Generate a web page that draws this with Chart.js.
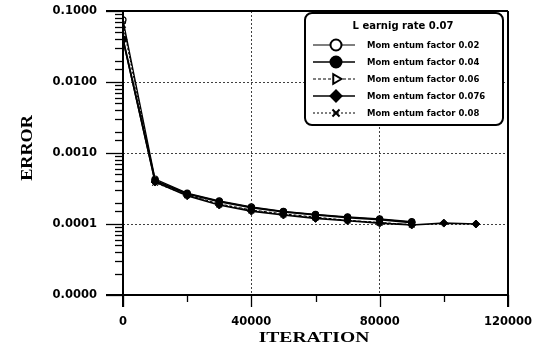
<!DOCTYPE html>
<html>
<head>
<meta charset="utf-8">
<script src="https://cdn.jsdelivr.net/npm/chart.js@4/dist/chart.umd.min.js"></script>
<style>
  html, body { margin: 0; padding: 0; background: #fff; }
  #wrap { width: 537px; height: 346px; }
</style>
</head>
<body>
<div id="wrap"><canvas id="c" width="537" height="346"></canvas></div>
<script>
// Training error against iteration count, learning rate 0.07
const iterations = [0, 10000, 20000, 30000, 40000, 50000, 60000, 70000, 80000, 90000, 100000, 110000];

const errMomentum002  = [0.075, 0.00043, 0.000272, 0.000212, 0.000175, 0.000151, 0.000137, 0.000126, 0.000118, 0.000108, null, null];
const errMomentum004  = [0.040, 0.00041, 0.000265, 0.000206, 0.000170, 0.000148, 0.000134, 0.000123, 0.000115, 0.000105, null, null];
const errMomentum006  = [0.068, 0.00040, 0.000258, 0.000192, 0.000158, 0.000139, 0.000125, 0.000113, 0.000105, 0.000098, null, null];
const errMomentum0076 = [0.040, 0.00039, 0.000250, 0.000185, 0.000152, 0.000134, 0.000120, 0.000111, 0.000103, 0.000097, 0.000103, 0.000100];
const errMomentum008  = [0.064, 0.00038, 0.000255, 0.000188, 0.000155, 0.000136, 0.000122, 0.000112, 0.000104, 0.000098, null, null];

const seriesLabels = [
  'Mom entum factor 0.02',
  'Mom entum factor 0.04',
  'Mom entum factor 0.06',
  'Mom entum factor 0.076',
  'Mom entum factor 0.08'
];
const legendTitle = 'L earnig rate 0.07';
const xTitle = 'ITERATION';
const yTitle = 'ERROR';

const yTickValues = [0.00001, 0.0001, 0.001, 0.01, 0.1];
const xLabelStep = 40000;

function toPoints(values) {
  const pts = [];
  values.forEach((v, i) => { if (v !== null) pts.push({ x: iterations[i], y: v }); });
  return pts;
}

// filled markers are stacked above the open ones
const datasets = [
  { label: seriesLabels[0], data: toPoints(errMomentum002), borderColor: '#000', backgroundColor: '#fff', order: 5,
    borderWidth: 1.2, borderDash: [], pointStyle: 'circle', pointRadius: 3, pointBorderWidth: 1.2 },
  { label: seriesLabels[1], data: toPoints(errMomentum004), borderColor: '#000', backgroundColor: '#000', order: 2,
    borderWidth: 1.8, borderDash: [], pointStyle: 'circle', pointRadius: 3.5, pointBorderWidth: 1 },
  { label: seriesLabels[2], data: toPoints(errMomentum006), borderColor: '#000', backgroundColor: '#fff', order: 4,
    borderWidth: 1, borderDash: [3, 2], pointStyle: 'triangle', pointRotation: 90, pointRadius: 3, pointBorderWidth: 1 },
  { label: seriesLabels[3], data: toPoints(errMomentum0076), borderColor: '#000', backgroundColor: '#000', order: 1,
    borderWidth: 1.6, borderDash: [], pointStyle: 'rectRot', pointRadius: 4, pointBorderWidth: 1 },
  { label: seriesLabels[4], data: toPoints(errMomentum008), borderColor: '#000', backgroundColor: '#000', order: 3,
    borderWidth: 1, borderDash: [2, 2], pointStyle: 'crossRot', pointRadius: 4, pointBorderWidth: 1.2 }
];

const isDecade = v => Math.abs(Math.log10(v) - Math.round(Math.log10(v))) < 1e-9;

// Frame, tick marks and axis titles
const framePlugin = {
  id: 'frame',
  afterDatasetsDraw(chart) {
    const { ctx, chartArea: a, scales } = chart;
    const xs = scales.x, ys = scales.y;
    ctx.save();
    ctx.strokeStyle = '#000';
    // minor/major ticks on the y axis
    ctx.lineWidth = 1.3;
    ys.ticks.forEach(t => {
      const y = Math.round(ys.getPixelForValue(t.value)) + 0.5;
      const len = isDecade(t.value) ? 17 : 8;
      ctx.beginPath(); ctx.moveTo(a.left - len, y); ctx.lineTo(a.left, y); ctx.stroke();
    });
    // ticks on the x axis
    xs.ticks.forEach(t => {
      const x = Math.round(xs.getPixelForValue(t.value)) + 0.5;
      const len = t.value % xLabelStep === 0 ? 12 : 7;
      ctx.beginPath(); ctx.moveTo(x, a.bottom); ctx.lineTo(x, a.bottom + len); ctx.stroke();
    });
    // frame lines
    ctx.lineWidth = 2;
    ctx.beginPath();
    ctx.moveTo(a.left - 17, a.top); ctx.lineTo(a.right, a.top);
    ctx.moveTo(a.right, a.top); ctx.lineTo(a.right, a.bottom + 12);
    ctx.moveTo(a.left, a.top); ctx.lineTo(a.left, a.bottom + 12);
    ctx.moveTo(a.left - 17, a.bottom); ctx.lineTo(a.right, a.bottom);
    ctx.stroke();

    // axis titles (wide serif capitals)
    ctx.fillStyle = '#000';
    ctx.font = 'bold 14px "Liberation Serif"';
    ctx.textAlign = 'center';
    ctx.textBaseline = 'middle';
    ctx.save();
    ctx.translate(314, 338);
    ctx.scale(1.4, 1);
    ctx.fillText(xTitle, 0, 0);
    ctx.restore();
    ctx.save();
    ctx.translate(27, 148);
    ctx.rotate(-Math.PI / 2);
    ctx.scale(1.3, 1.25);
    ctx.fillText(yTitle, 0, 0);
    ctx.restore();
    ctx.restore();
  }
};

// Boxed legend with title
const boxLegendPlugin = {
  id: 'boxLegend',
  afterDraw(chart) {
    const { ctx } = chart;
    const bx = 305, by = 13, bw = 198, bh = 112, r = 7;
    ctx.save();
    ctx.fillStyle = '#fff';
    ctx.strokeStyle = '#000';
    ctx.lineWidth = 2;
    ctx.beginPath();
    ctx.roundRect(bx, by, bw, bh, r);
    ctx.fill();
    ctx.stroke();

    ctx.fillStyle = '#000';
    ctx.font = 'bold 10px "DejaVu Sans"';
    ctx.textAlign = 'center';
    ctx.textBaseline = 'middle';
    ctx.fillText(legendTitle, 403, 26);

    ctx.font = 'bold 8.5px "DejaVu Sans"';
    ctx.textAlign = 'left';
    chart.data.datasets.forEach((ds, i) => {
      const y = 45 + i * 17;
      ctx.save();
      ctx.strokeStyle = '#000';
      ctx.lineWidth = Math.min(ds.borderWidth, 1.4);
      ctx.setLineDash(ds.borderDash.length ? ds.borderDash : []);
      ctx.beginPath(); ctx.moveTo(313, y); ctx.lineTo(355, y); ctx.stroke();
      ctx.restore();
      ctx.save();
      ctx.fillStyle = ds.backgroundColor;
      ctx.strokeStyle = '#000';
      Chart.helpers.drawPoint(ctx, {
        pointStyle: ds.pointStyle,
        rotation: ds.pointRotation || 0,
        radius: ds.pointStyle === 'crossRot' ? 5 : 5.5,
        borderWidth: 1.2
      }, 336, y);
      ctx.restore();
      ctx.fillText(ds.label, 367, y + 0.5);
    });
    ctx.restore();
  }
};

new Chart(document.getElementById('c'), {
  type: 'line',
  data: { datasets },
  options: {
    responsive: false,
    animation: false,
    devicePixelRatio: 1,
    layout: { padding: { top: 11, right: 29, left: 0, bottom: 0 } },
    plugins: { legend: { display: false }, tooltip: { enabled: false } },
    elements: { line: { tension: 0 } },
    scales: {
      x: {
        type: 'linear',
        min: 0, max: 120000,
        afterFit(s) { s.height = 51; s.paddingLeft = 0; s.paddingRight = 0; },
        border: { display: false, dash: [2, 2] },
        grid: {
          drawTicks: false,
          lineWidth: 1,
          color: c => (c.tick && c.tick.value % xLabelStep === 0 && c.tick.value > 0 && c.tick.value < 120000) ? 'rgba(0,0,0,0.75)' : 'rgba(0,0,0,0)'
        },
        ticks: {
          stepSize: 20000,
          autoSkip: false,
          maxRotation: 0,
          padding: 20,
          color: '#000',
          font: { family: 'DejaVu Sans', weight: 'bold', size: 11.5 },
          callback: v => (v % xLabelStep === 0 ? String(v) : '')
        }
      },
      y: {
        type: 'logarithmic',
        min: yTickValues[0], max: yTickValues[yTickValues.length - 1],
        afterFit(s) { s.width = 123; s.paddingTop = 0; s.paddingBottom = 0; },
        border: { display: false, dash: [2, 2] },
        grid: {
          drawTicks: false,
          lineWidth: 1,
          color: c => (c.tick && isDecade(c.tick.value) && c.tick.value > yTickValues[0] && c.tick.value < yTickValues[yTickValues.length - 1]) ? 'rgba(0,0,0,0.75)' : 'rgba(0,0,0,0)'
        },
        ticks: {
          autoSkip: false,
          padding: 26,
          color: '#000',
          font: { family: 'DejaVu Sans', weight: 'bold', size: 11.5 },
          callback: v => (yTickValues.some(t => Math.abs(t - v) / t < 1e-6) ? v.toFixed(4) : '')
        }
      }
    }
  },
  plugins: [framePlugin, boxLegendPlugin]
});
</script>
</body>
</html>
